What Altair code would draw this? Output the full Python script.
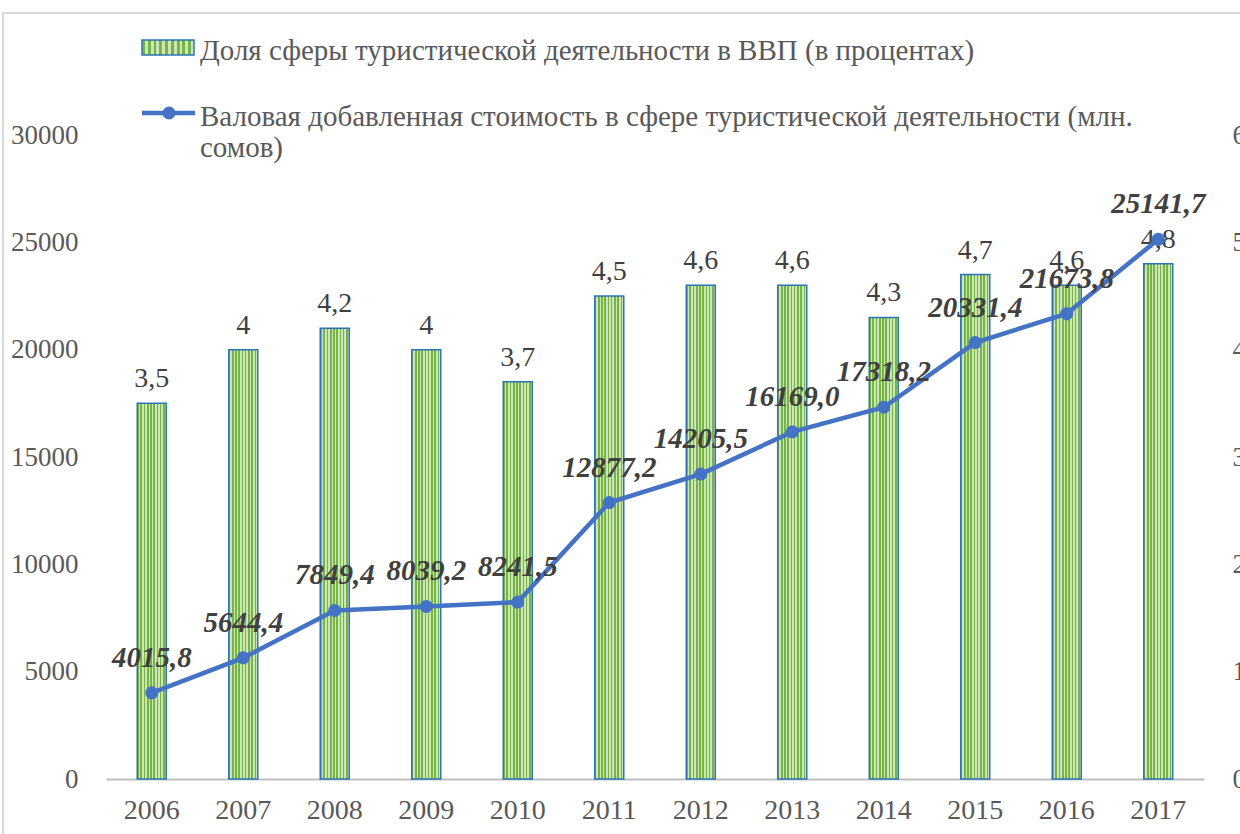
import altair as alt
import pandas as pd

years = ["2006", "2007", "2008", "2009", "2010", "2011", "2012", "2013", "2014", "2015", "2016", "2017"]
share = [3.5, 4, 4.2, 4, 3.7, 4.5, 4.6, 4.6, 4.3, 4.7, 4.6, 4.8]
share_labels = ["3,5", "4", "4,2", "4", "3,7", "4,5", "4,6", "4,6", "4,3", "4,7", "4,6", "4,8"]
gva = [4015.8, 5644.4, 7849.4, 8039.2, 8241.5, 12877.2, 14205.5, 16169.0, 17318.2, 20331.4, 21673.8, 25141.7]
gva_labels = ["4015,8", "5644,4", "7849,4", "8039,2", "8241,5", "12877,2", "14205,5", "16169,0",
              "17318,2", "20331,4", "21673,8", "25141,7"]
legend_bar = "Доля сферы туристической деятельности в ВВП (в процентах)"
legend_line = ["Валовая добавленная стоимость в сфере туристической деятельности (млн.", "сомов)"]

df = pd.DataFrame({"year": years, "share": share, "share_label": share_labels,
                   "gva": gva, "gva_label": gva_labels})

FONT = "Liberation Serif"
DARK = "#404040"
AX = "#595959"
BLUE = "#4472C4"

# striped fill
stops = []
n = 9
for i in range(n):
    stops += [alt.GradientStop(offset=i / n, color="#76B545"),
              alt.GradientStop(offset=(i + 0.5) / n, color="#76B545"),
              alt.GradientStop(offset=(i + 0.5) / n, color="#CDE6B8"),
              alt.GradientStop(offset=(i + 1) / n, color="#CDE6B8")]
stripe = alt.Gradient(gradient="linear", stops=stops, x1=0, x2=1, y1=0, y2=0)

x = alt.X("year:O", scale=alt.Scale(paddingInner=0, paddingOuter=0),
          axis=alt.Axis(title=None, labelAngle=0, labelFont=FONT, labelFontSize=28, labelColor=AX,
                        ticks=False, domainColor="#BFBFBF", domainWidth=2, labelPadding=17))

yb = alt.Y("share:Q", scale=alt.Scale(domain=[0, 6]),
           axis=alt.Axis(title=None, orient="right", values=[0, 1, 2, 3, 4, 5, 6], grid=False,
                         format="d", domain=False, ticks=False, labelFont=FONT, labelFontSize=27,
                         labelColor=AX, labelPadding=28))
base = alt.Chart(df)
bars = base.mark_bar(size=29, fill=stripe, stroke="#2E75B6", strokeWidth=1.5).encode(x=x, y=yb)
bar_text = base.mark_text(font=FONT, fontSize=28, color=DARK, baseline="alphabetic", dy=-16).encode(
    x=x, y=yb, text="share_label:N")
bar_layer = alt.layer(bars, bar_text)

yl = alt.Y("gva:Q", scale=alt.Scale(domain=[0, 30000]),
           axis=alt.Axis(title=None, orient="left", values=[0, 5000, 10000, 15000, 20000, 25000, 30000],
                         format="d", grid=False, domain=False, ticks=False, labelFont=FONT,
                         labelFontSize=27, labelColor=AX, labelPadding=28))
line = base.mark_line(color=BLUE, strokeWidth=4.5).encode(x=x, y=yl)
pts = base.mark_circle(color=BLUE, size=170, opacity=1).encode(x=x, y=yl)
ltext = base.mark_text(font=FONT, fontSize=29, fontWeight="bold", fontStyle="italic", color=DARK,
                       baseline="alphabetic", dy=-26).encode(x=x, y=yl, text="gva_label:N")
line_layer = alt.layer(line, pts, ltext)

one = alt.Data(values=[{"a": 1}])
frame = alt.Chart(one).mark_rect(fill="transparent", stroke="#D9D9D9", strokeWidth=2).encode(
    x=alt.value(-103), x2=alt.value(1300), y=alt.value(-122), y2=alt.value(900))
leg_rect = alt.Chart(one).mark_rect(fill=stripe, stroke="#2E75B6", strokeWidth=1.5).encode(
    x=alt.value(36), x2=alt.value(88), y=alt.value(-95), y2=alt.value(-80))
leg_text1 = alt.Chart(one).mark_text(font=FONT, fontSize=29, color=AX, align="left",
                                     baseline="alphabetic").encode(
    x=alt.value(94), y=alt.value(-75), text=alt.value(legend_bar))
leg_line = alt.Chart(one).mark_rule(color=BLUE, strokeWidth=4.5).encode(
    x=alt.value(36), x2=alt.value(89), y=alt.value(-22))
leg_pt = alt.Chart(one).mark_circle(color=BLUE, size=170, opacity=1).encode(
    x=alt.value(63), y=alt.value(-22))
leg_text2 = alt.Chart(one).mark_text(font=FONT, fontSize=29, color=AX, align="left",
                                     baseline="alphabetic", lineHeight=31).encode(
    x=alt.value(94), y=alt.value(-9), text=alt.value(legend_line))

chart = alt.layer(frame, bar_layer, line_layer, leg_rect, leg_text1, leg_line, leg_pt, leg_text2).resolve_scale(
    y="independent").properties(
    width=1098, height=644, autosize=alt.AutoSizeParams(type="none"),
    padding={"left": 106, "top": 135, "right": 36, "bottom": 55}
).configure_view(stroke=None)

chart.save("out.html", embed_options={"renderer": "svg", "actions": False})
